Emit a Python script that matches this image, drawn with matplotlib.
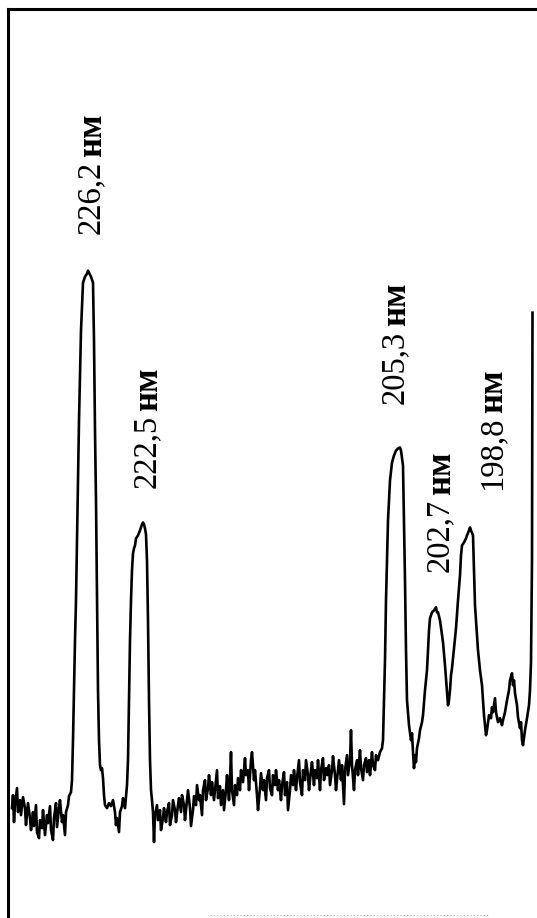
import matplotlib
matplotlib.use("Agg")
import matplotlib.pyplot as plt

# scan channel (left -> right, wavelength decreasing) and detector signal, a.u.
channel = [
    4, 5, 6, 7, 9, 10, 12, 13, 15, 17, 18, 20, 22, 23, 25, 26, 28, 29, 31, 32,
    34, 35, 37, 39, 40, 42, 43, 45, 46, 48, 49, 51, 52, 54, 55, 57, 58, 60, 61, 63,
    64, 65, 66, 67, 68, 69, 71, 73, 74, 75, 77, 79, 80, 81, 83, 85, 86, 87, 88, 89,
    90, 91, 92, 93, 94, 95, 96, 97, 99, 101, 103, 105, 107, 108, 109, 111, 112, 114, 115, 117,
    118, 119, 120, 121, 122, 123, 124, 125, 126, 127, 128, 130, 132, 134, 135, 136, 137, 138, 139, 140,
    141, 142, 143, 144, 145, 146, 147, 149, 150, 152, 153, 155, 156, 158, 159, 161, 162, 164, 165, 167,
    168, 170, 171, 173, 174, 176, 177, 179, 180, 182, 183, 185, 186, 188, 189, 191, 192, 194, 195, 197,
    198, 200, 201, 203, 204, 206, 207, 209, 210, 212, 213, 215, 216, 218, 219, 221, 222, 223, 224, 226,
    227, 229, 230, 232, 233, 235, 237, 238, 240, 241, 243, 244, 246, 247, 249, 250, 252, 253, 255, 256,
    258, 259, 261, 262, 264, 265, 267, 268, 270, 271, 273, 274, 276, 277, 279, 280, 282, 283, 285, 286,
    288, 289, 291, 292, 294, 295, 297, 298, 300, 301, 303, 304, 306, 307, 309, 310, 312, 313, 315, 316,
    318, 319, 321, 322, 324, 325, 327, 328, 330, 331, 333, 334, 336, 337, 339, 340, 342, 343, 344, 346,
    347, 349, 350, 352, 353, 355, 356, 358, 359, 361, 362, 364, 365, 367, 368, 370, 372, 374, 375, 376,
    377, 378, 379, 380, 382, 384, 386, 388, 390, 392, 393, 395, 396, 397, 398, 399, 400, 401, 403, 404,
    405, 406, 407, 408, 409, 411, 412, 414, 415, 417, 419, 420, 421, 422, 424, 426, 428, 429, 430, 432,
    434, 435, 437, 439, 440, 441, 442, 443, 444, 446, 448, 450, 452, 453, 454, 456, 458, 459, 461, 462,
    463, 465, 467, 470, 472, 474, 476, 477, 478, 479, 481, 483, 484, 485, 487, 488, 490, 492, 494, 495,
    497, 499, 501, 502, 504, 505, 506, 507, 509, 510, 512, 513, 514, 515, 517, 519, 521, 522, 523, 524,
    524.5,
]
signal = [
    110, 123, 96, 113, 130, 106, 118, 103, 121, 110, 93, 115, 100, 88, 106, 92, 113, 86, 80, 98,
    90, 108, 83, 103, 95, 112, 88, 78, 100, 115, 91, 110, 118, 96, 103, 83, 106, 113, 122, 126,
    138, 178, 228, 278, 318, 378, 498, 588, 613, 636, 642, 645, 648, 646, 642, 636, 578, 488, 418, 318,
    228, 178, 153, 148, 150, 140, 123, 113, 110, 115, 112, 118, 106, 93, 100, 86, 106, 112, 120, 110,
    122, 133, 158, 218, 278, 318, 348, 365, 370, 373, 380, 383, 388, 394, 396, 394, 390, 384, 358, 298,
    218, 158, 128, 118, 106, 76, 103, 113, 98, 108, 88, 100, 110, 96, 106, 115, 93, 103, 118, 108,
    96, 113, 120, 106, 123, 113, 98, 118, 128, 110, 92, 108, 122, 113, 133, 118, 123, 103, 128, 138,
    118, 130, 143, 123, 136, 118, 128, 148, 120, 132, 113, 128, 108, 128, 143, 118, 138, 166, 128, 113,
    133, 123, 140, 128, 148, 136, 160, 143, 148, 128, 158, 166, 138, 148, 123, 108, 130, 145, 128, 138,
    118, 140, 148, 130, 123, 143, 133, 148, 128, 138, 118, 133, 146, 123, 136, 108, 128, 143, 133, 148,
    128, 140, 158, 136, 123, 148, 138, 158, 143, 128, 148, 156, 133, 148, 140, 158, 128, 148, 160, 138,
    150, 143, 153, 133, 148, 162, 143, 128, 148, 158, 138, 153, 114, 148, 163, 143, 158, 188, 153, 128,
    148, 158, 143, 168, 150, 138, 153, 160, 146, 158, 143, 166, 153, 148, 163, 158, 166, 170, 178, 218,
    258, 318, 358, 398, 438, 456, 463, 468, 470, 471, 468, 453, 398, 338, 268, 218, 206, 193, 178, 185,
    166, 150, 163, 156, 170, 180, 188, 196, 203, 228, 248, 268, 288, 300, 306, 308, 311, 306, 306, 298,
    283, 276, 253, 226, 213, 218, 228, 243, 250, 270, 290, 318, 343, 363, 373, 376, 380, 383, 388, 391,
    388, 383, 313, 268, 248, 233, 203, 193, 183, 188, 203, 200, 211, 206, 220, 206, 196, 200, 193, 198,
    206, 218, 228, 238, 245, 233, 238, 225, 213, 201, 190, 196, 178, 173, 188, 200, 213, 228, 256, 358,
    606,
]

# peak labels: wavelength text, channel of text centre, signal where text starts
peak_nm = ["226,2", "222,5", "205,3", "202,7", "198,8"]
unit = "нм"
label_ch = [83, 139, 387, 432, 484]
label_sig = [685, 430, 515, 346, 428]

serif = ["Liberation Serif", "DejaVu Serif"]

fig = plt.figure(figsize=(5.37, 9.18), dpi=100)
ax = fig.add_axes([8 / 537, 0, 529 / 537, 909 / 918])

ax.plot(channel, signal, color="black", lw=1.9, solid_joinstyle="round")
# faint scan artefact along the bottom
ax.plot([202, 482], [3, 3], color="#b0b0b0", lw=0.8, ls=(0, (1, 2)))

ax.set_xlim(0, 529)
ax.set_ylim(0, 910)
ax.set_xticks([])
ax.set_yticks([])
for side in ["right", "bottom"]:
    ax.spines[side].set_visible(False)
for side in ["left", "top"]:
    ax.spines[side].set_linewidth(2.2)

nums = []
for txt, cx, cy in zip(peak_nm, label_ch, label_sig):
    nums.append(ax.text(cx, cy, txt, rotation=90, ha="center", va="bottom",
                        fontsize=23.5, family=serif))

# unit in bold, placed right after each number
fig.canvas.draw()
r = fig.canvas.get_renderer()
inv = ax.transData.inverted()
for t, cx in zip(nums, label_ch):
    bb = t.get_window_extent(r)
    _, top = inv.transform((0, bb.y1 + 4))
    ax.text(cx + 1.5, top, unit, rotation=90, ha="center", va="bottom",
            fontsize=25, family=serif, weight="bold")

fig.savefig("out.png", dpi=100)
